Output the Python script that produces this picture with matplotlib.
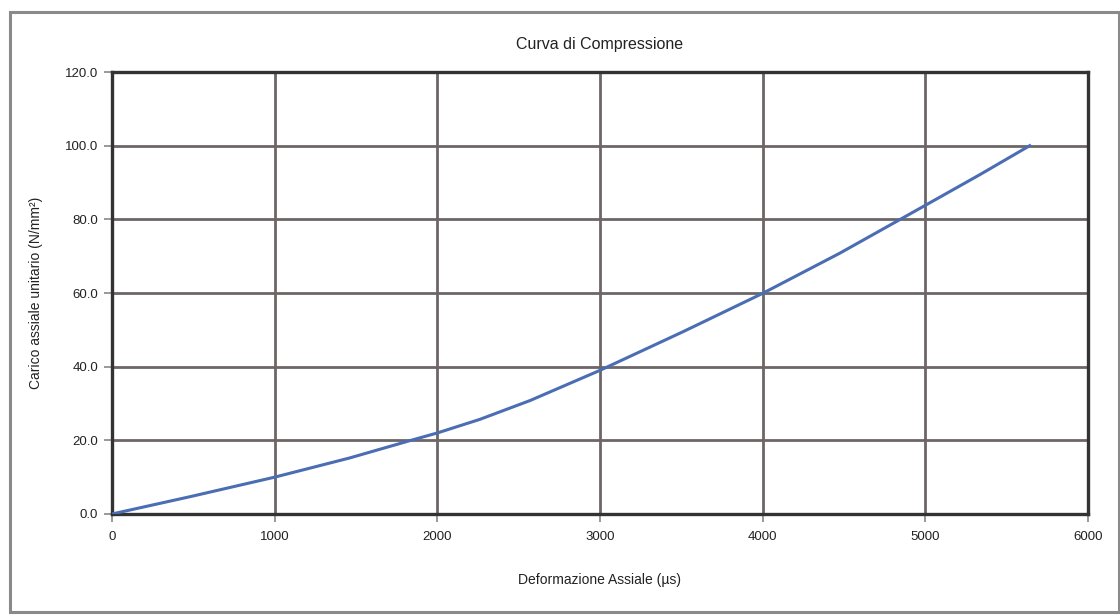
import matplotlib
matplotlib.use("Agg")
import matplotlib.pyplot as plt
from matplotlib.patches import Rectangle

plt.rcParams['font.family'] = ['Liberation Sans', 'DejaVu Sans']

# Data
strain = [0, 480, 1000, 1460, 1830, 2000, 2262, 2570, 3000, 3511, 4000, 4474, 4822, 5000, 5334, 5642]
stress = [0.0, 4.7, 10.0, 15.2, 19.9, 22.0, 25.7, 30.8, 39.0, 49.5, 59.9, 70.8, 79.4, 83.8, 92.1, 100.0]

x_ticks = [0, 1000, 2000, 3000, 4000, 5000, 6000]
y_ticks = [0, 20, 40, 60, 80, 100, 120]

title = "Curva di Compressione"
xlabel = "Deformazione Assiale (µs)"
ylabel = "Carico assiale unitario (N/mm²)"

fig = plt.figure(figsize=(11.2, 6.16), dpi=100)
fig.patch.set_facecolor('white')

# Outer chart border
fig.add_artist(Rectangle((0.009, 0.006), 0.99, 0.975, transform=fig.transFigure,
                         fill=False, edgecolor='#8a8a8a', linewidth=2.2))

ax = fig.add_axes([0.1, 0.1656, 0.8714, 0.7175])
ax.plot(strain, stress, color='#4a6db3', linewidth=2.2, zorder=3,
        solid_joinstyle='round')

ax.set_xlim(0, 6000)
ax.set_ylim(0, 120)
ax.set_xticks(x_ticks)
ax.set_yticks(y_ticks)
ax.set_xticklabels([str(t) for t in x_ticks])
ax.set_yticklabels([f"{t:.1f}" for t in y_ticks])
ax.grid(True, color='#6e6666', linewidth=2.0)
ax.set_axisbelow(True)
for s in ax.spines.values():
    s.set_color('#333333')
    s.set_linewidth(2.4)
ax.tick_params(axis='both', length=6, width=1.2, color='#888888', labelsize=9.5,
               labelcolor='#222222', direction='out')
ax.tick_params(axis='y', pad=4)
ax.tick_params(axis='x', pad=6)

fig.text(0.535, 0.928, title, ha='center', va='center', fontsize=11.5, color='#222222')
ax.set_xlabel(xlabel, fontsize=10, color='#222222', labelpad=22)
ax.set_ylabel(ylabel, fontsize=10, color='#222222', labelpad=16)

fig.savefig("out.png", dpi=100, facecolor='white')
